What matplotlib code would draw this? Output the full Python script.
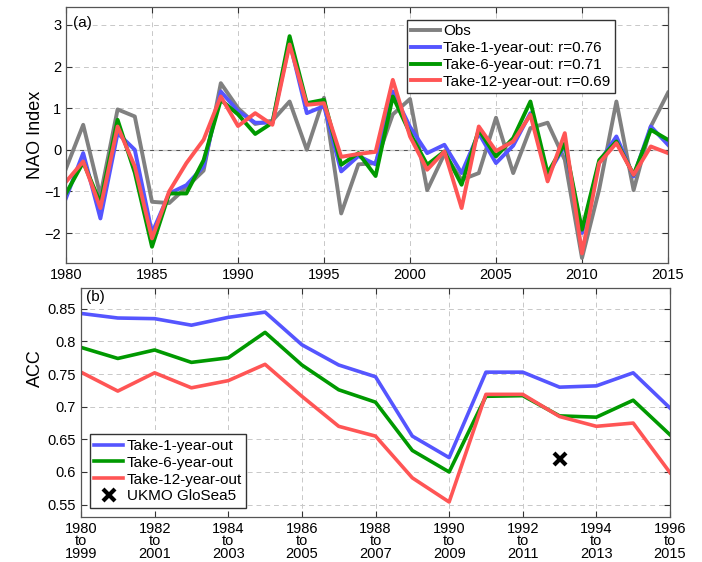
import numpy as np
import matplotlib
matplotlib.use('Agg')
import matplotlib.pyplot as plt

plt.rcParams['font.family'] = ['Liberation Sans', 'DejaVu Sans']

# (a) NAO index, 1980-2015
years = list(range(1980, 2016))
obs = [-0.45, 0.6, -1.1, 0.97, 0.8, -1.25, -1.28, -0.9, -0.5, 1.6,
       1.0, 0.62, 0.7, 1.16, 0.0, 1.25, -1.53, -0.35, -0.32, 0.85,
       1.22, -0.97, -0.1, -0.72, -0.56, 0.77, -0.56, 0.52, 0.65, -0.24,
       -2.6, -0.95, 1.16, -0.97, 0.56, 1.37]
take1 = [-1.16, -0.08, -1.65, 0.4, 0.0, -2.0, -1.05, -0.85, -0.4, 1.4,
         0.93, 0.65, 0.65, 2.6, 0.88, 1.05, -0.52, -0.15, -0.35, 1.4,
         0.55, -0.08, 0.12, -0.56, 0.4, -0.32, 0.1, 0.88, -0.6, 0.1,
         -2.0, -0.3, 0.32, -0.64, 0.56, 0.12]
take6 = [-1.05, -0.3, -1.28, 0.72, -0.55, -2.33, -1.05, -1.05, -0.25, 1.2,
         0.85, 0.38, 0.65, 2.73, 1.12, 1.2, -0.36, -0.08, -0.63, 1.28,
         0.4, -0.36, -0.04, -0.84, 0.48, -0.16, 0.28, 1.16, -0.56, 0.15,
         -1.92, -0.25, 0.2, -0.6, 0.48, 0.24]
take12 = [-0.77, -0.28, -1.4, 0.56, -0.4, -2.13, -1.0, -0.32, 0.24, 1.28,
          0.57, 0.88, 0.6, 2.53, 1.08, 1.12, -0.17, -0.1, -0.05, 1.68,
          0.32, -0.48, -0.04, -1.4, 0.56, -0.03, 0.2, 0.84, -0.76, 0.4,
          -2.49, -0.32, 0.16, -0.6, 0.08, -0.08]

# (b) ACC for 20-year windows starting 1980-1996
start_years = list(range(1980, 1997))
acc1 = [0.843, 0.836, 0.835, 0.825, 0.837, 0.845, 0.795, 0.764, 0.746, 0.655,
        0.622, 0.753, 0.753, 0.730, 0.732, 0.752, 0.698]
acc6 = [0.791, 0.774, 0.787, 0.768, 0.775, 0.814, 0.764, 0.726, 0.707, 0.633,
        0.600, 0.716, 0.717, 0.686, 0.684, 0.710, 0.657]
acc12 = [0.753, 0.724, 0.752, 0.729, 0.740, 0.765, 0.716, 0.670, 0.655, 0.591,
         0.554, 0.719, 0.719, 0.685, 0.670, 0.675, 0.599]
ukmo_year = [1993]
ukmo_acc = [0.62]
window_labels = ['%d\nto\n%d' % (y, y + 19) for y in range(1980, 1997, 2)]

c_obs = '#808080'
c_blue = '#5555ff'
c_green = '#009900'
c_red = '#ff5555'

fig = plt.figure(figsize=(7.02, 5.62), dpi=100)
W, H = 702.0, 562.0
ax1 = fig.add_axes([66 / W, 1 - 263 / H, (668 - 66) / W, (263 - 7) / H])
ax2 = fig.add_axes([81 / W, 1 - 517 / H, (670 - 81) / W, (517 - 288) / H])

leg_kw = dict(fontsize=11, frameon=True, fancybox=False, edgecolor='#333333',
              framealpha=1, handlelength=1.9, handletextpad=0.2, borderpad=0.3,
              labelspacing=0.18, borderaxespad=0)

lw = 2.8
ax1.axhline(0, color='#555555', lw=0.8, zorder=1)
ax1.plot(years, obs, color=c_obs, lw=lw, label='Obs')
ax1.plot(years, take1, color=c_blue, lw=lw, label='Take-1-year-out: r=0.76')
ax1.plot(years, take6, color=c_green, lw=lw, label='Take-6-year-out: r=0.71')
ax1.plot(years, take12, color=c_red, lw=lw, label='Take-12-year-out: r=0.69')
ax1.set_xlim(1980, 2015)
ax1.set_ylim(-2.72, 3.43)
ax1.set_xticks(range(1980, 2016, 5))
ax1.set_yticks(range(-2, 4))
ax1.set_ylabel('NAO Index', fontsize=13)
ax1.yaxis.set_label_coords(-0.037, 0.5)
ax1.text(0.012, 0.965, '(a)', transform=ax1.transAxes, fontsize=11, va='top')
ax1.legend(loc='upper right', bbox_to_anchor=(0.912, 0.95), **leg_kw)

lw2 = 2.6
ax2.plot(start_years, acc1, color=c_blue, lw=lw2, label='Take-1-year-out')
ax2.plot(start_years, acc6, color=c_green, lw=lw2, label='Take-6-year-out')
ax2.plot(start_years, acc12, color=c_red, lw=lw2, label='Take-12-year-out')
ax2.plot(ukmo_year, ukmo_acc, 'x', color='black', ms=9, mew=3, ls='none', label='UKMO GloSea5')
ax2.set_xlim(1980, 1996)
ax2.set_ylim(0.531, 0.882)
ax2.set_xticks(range(1980, 1997, 2))
ax2.set_xticklabels(window_labels, linespacing=0.85)
ax2.set_yticks([0.55, 0.6, 0.65, 0.7, 0.75, 0.8, 0.85])
ax2.set_yticklabels(['0.55', '0.6', '0.65', '0.7', '0.75', '0.8', '0.85'])
ax2.set_ylabel('ACC', fontsize=13)
ax2.yaxis.set_label_coords(-0.063, 0.65)
ax2.text(0.008, 0.99, '(b)', transform=ax2.transAxes, fontsize=11, va='top')
ax2.legend(loc='lower left', bbox_to_anchor=(0.015, 0.04), **leg_kw)

for ax in (ax1, ax2):
    ax.grid(True, ls=(0, (5, 4)), color='#c8c8c8', lw=0.7)
    ax.tick_params(direction='in', top=True, right=True, labelsize=10.5, length=4,
                   color='#333333')
    for s in ax.spines.values():
        s.set_color('#555555')
        s.set_linewidth(0.9)

fig.savefig('out.png', dpi=100)
